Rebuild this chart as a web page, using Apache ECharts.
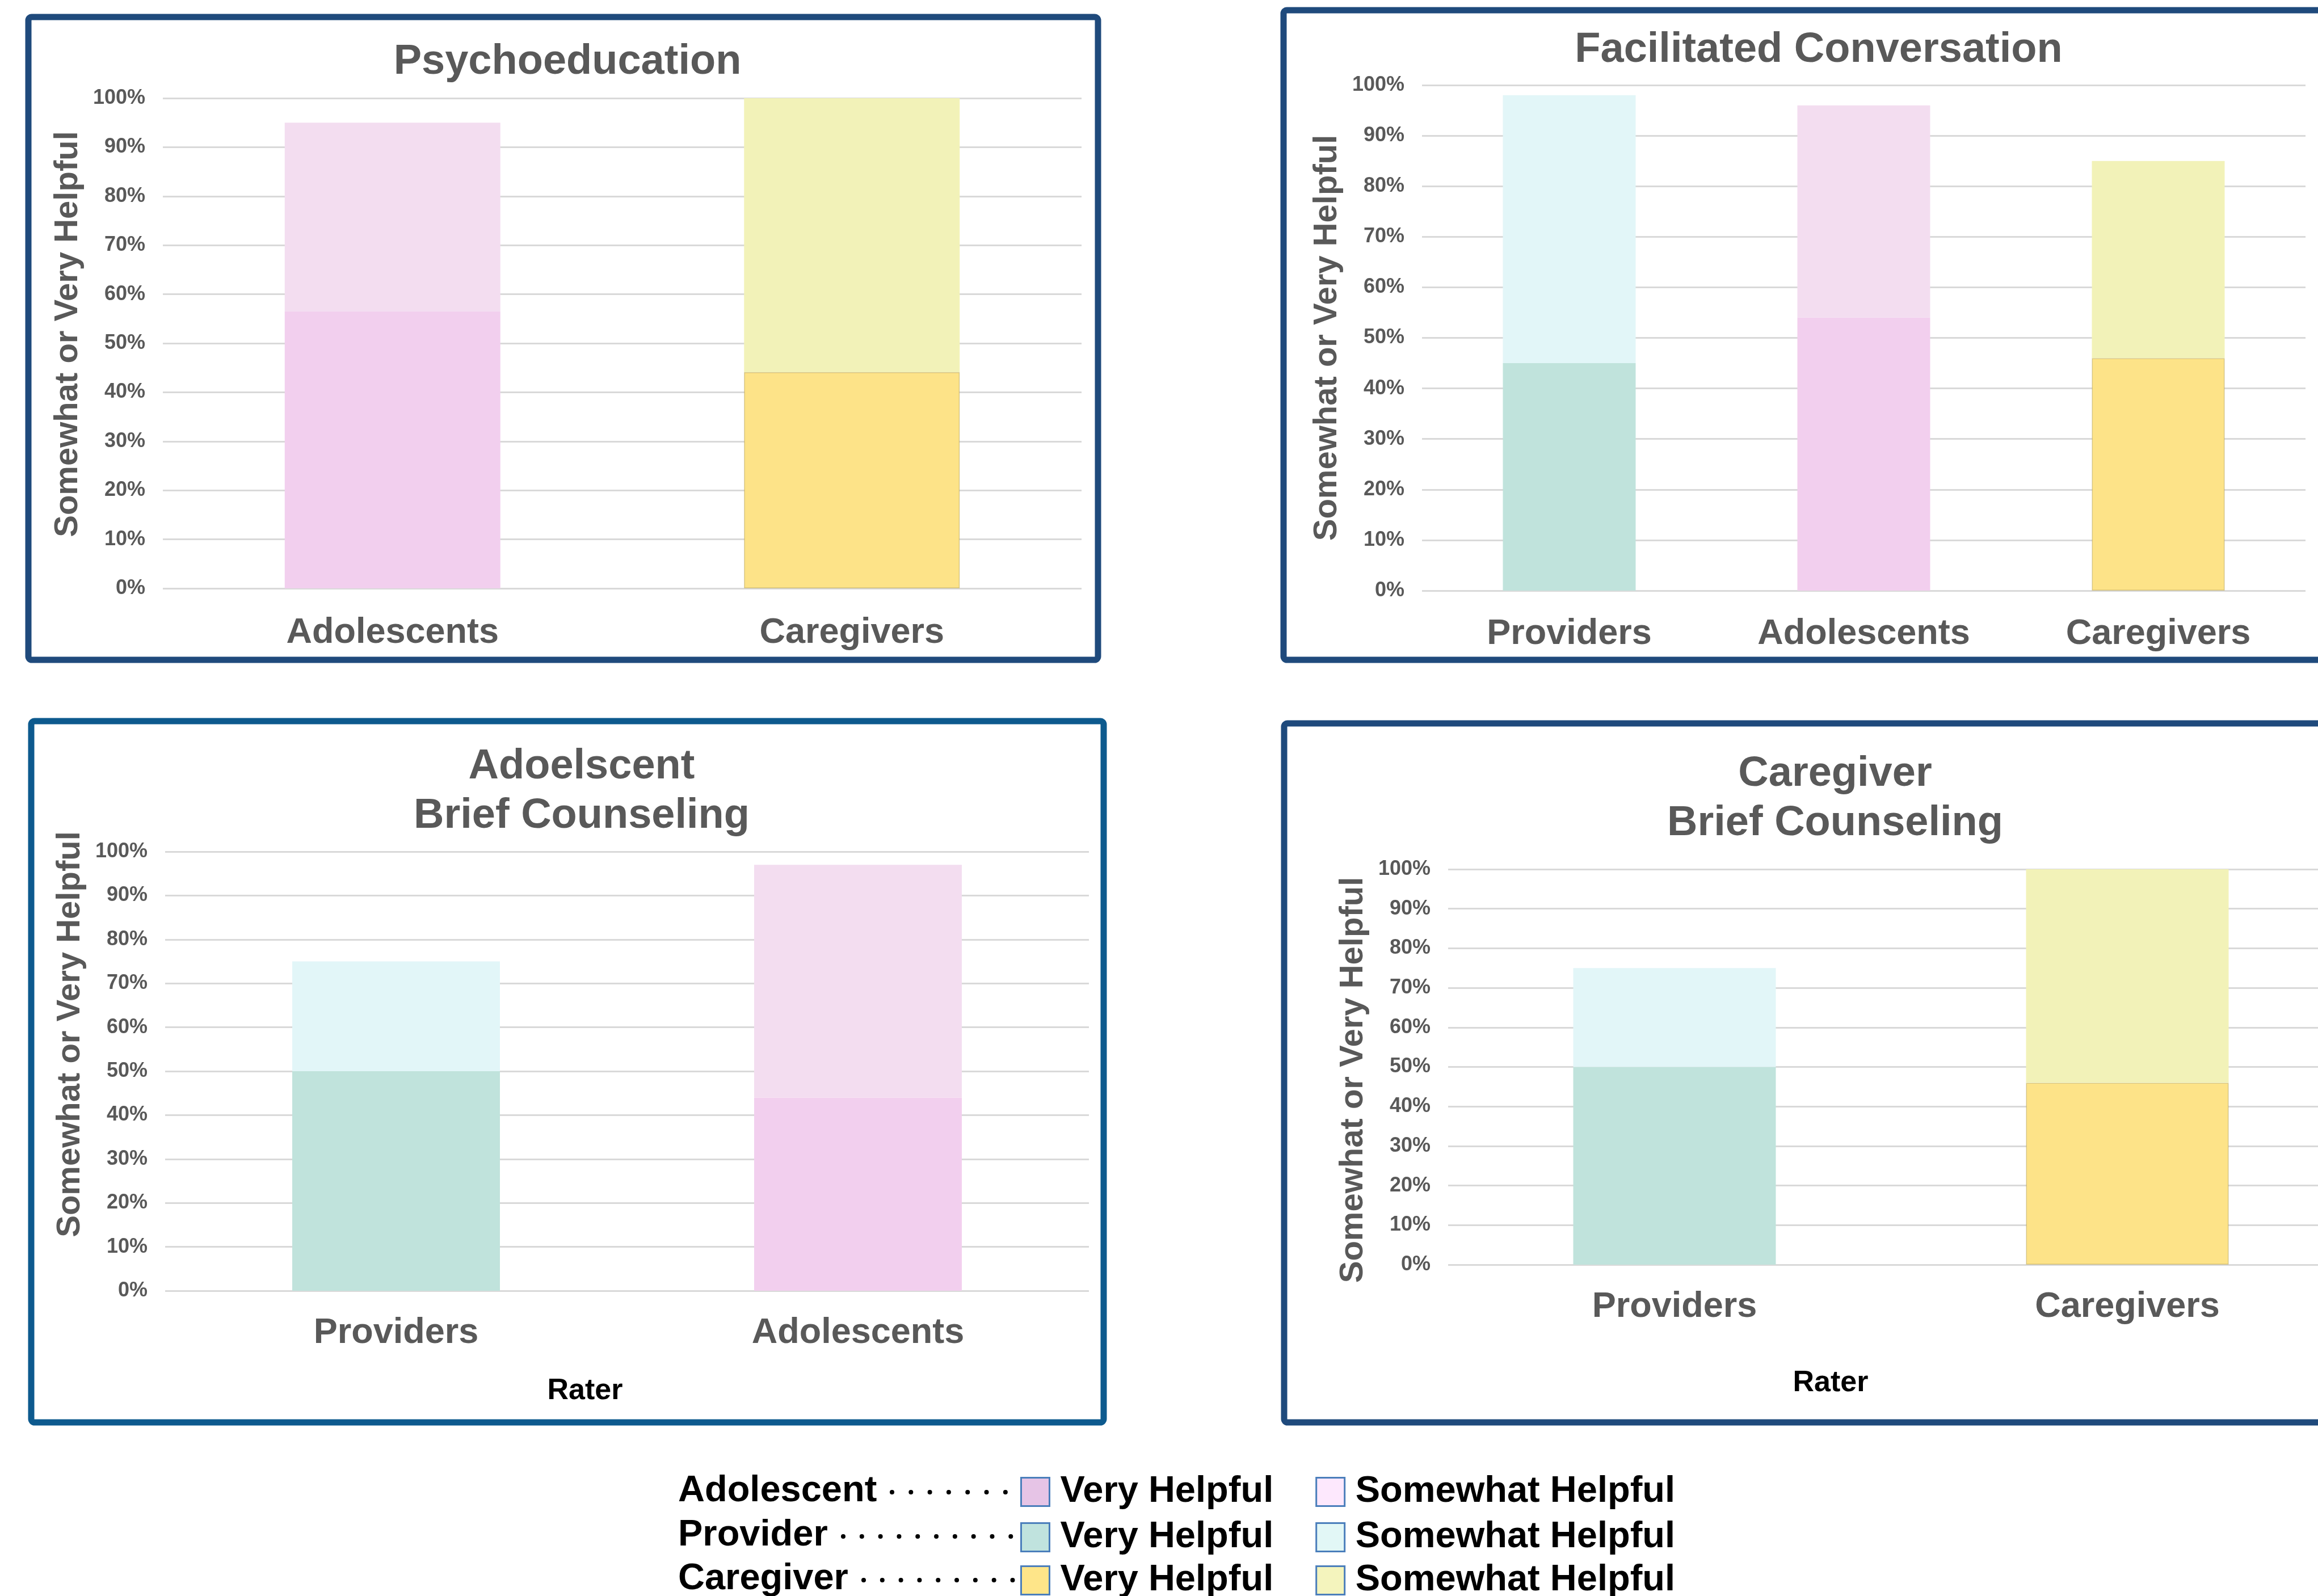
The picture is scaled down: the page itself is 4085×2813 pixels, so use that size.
<!DOCTYPE html>
<html>
<head>
<meta charset="utf-8">
<title>Helpfulness ratings</title>
<script src="https://cdn.jsdelivr.net/npm/echarts@6/dist/echarts.min.js"></script>
<style>
  html, body { margin: 0; padding: 0; background: #fff; overflow: hidden; }
  /* the right-hand panels run past the window edge, so the canvas is wider than the page */
  #chart { width: 4200px; height: 2813px; }
</style>
</head>
<body>
<div id="chart"></div>
<script>
// Psychoeducation
const psychoCategories = ['Adolescents', 'Caregivers']
const psychoRaters = ['Adolescent', 'Caregiver']
const psychoVery = [56.5, 44.1]
const psychoSomewhat = [38.5, 55.9]

// Facilitated Conversation
const convoCategories = ['Providers', 'Adolescents', 'Caregivers']
const convoRaters = ['Provider', 'Adolescent', 'Caregiver']
const convoVery = [45, 54, 46]
const convoSomewhat = [53, 42, 39]

// Adolescent brief counseling
const adolCategories = ['Providers', 'Adolescents']
const adolRaters = ['Provider', 'Adolescent']
const adolVery = [50, 44]
const adolSomewhat = [25, 53]

// Caregiver brief counseling
const careCategories = ['Providers', 'Caregivers']
const careRaters = ['Provider', 'Caregiver']
const careVery = [50, 46]
const careSomewhat = [25, 54]

const legendRaters = ['Adolescent', 'Provider', 'Caregiver']
const levels = ['Very Helpful', 'Somewhat Helpful']

const FONT = '"Liberation Sans", Arial, sans-serif'
const GREY = '#595959'

const barColors = {
  Adolescent: { 'Very Helpful': '#f2cfee', 'Somewhat Helpful': '#f3ddf0' },
  Provider: { 'Very Helpful': '#c0e3dc', 'Somewhat Helpful': '#e2f6f8' },
  Caregiver: { 'Very Helpful': '#fde388', 'Somewhat Helpful': '#f2f2b8' }
}
const legendColors = {
  Adolescent: { 'Very Helpful': '#e6c4e6', 'Somewhat Helpful': '#fde8fd' },
  Provider: { 'Very Helpful': '#c0e3de', 'Somewhat Helpful': '#e2f7f6' },
  Caregiver: { 'Very Helpful': '#fee589', 'Somewhat Helpful': '#f4f4bd' }
}

const panels = [
  {
    title: 'Psychoeducation', categories: psychoCategories, raters: psychoRaters,
    very: psychoVery, somewhat: psychoSomewhat, namePad: [0, 0, 0, 32], labelMargin: 47,
    grid: { left: 287, top: 173, width: 1619, height: 864 }, barWidth: 380,
    titlePos: { x: 1000, y: 66 }, border: { x: 50, y: 30, w: 1885, h: 1133, color: '#1f4a7c' }
  },
  {
    title: 'Facilitated Conversation', categories: convoCategories, raters: convoRaters,
    very: convoVery, somewhat: convoSomewhat, namePad: [0, 0, 0, 0], labelMargin: 45,
    grid: { left: 2506, top: 150, width: 1557, height: 891 }, barWidth: 234,
    titlePos: { x: 3205, y: 45 }, border: { x: 2262, y: 18, w: 2000, h: 1145, color: '#1f4a7c' }
  },
  {
    title: 'Adoelscent\nBrief Counseling', categories: adolCategories, raters: adolRaters,
    very: adolVery, somewhat: adolSomewhat, namePad: [0, 0, 0, 130], labelMargin: 43,
    rater: 'Rater', raterGap: 151, raterPad: [0, 148, 0, 0],
    grid: { left: 291, top: 1501, width: 1628, height: 774 }, barWidth: 366,
    titlePos: { x: 1025, y: 1308 }, border: { x: 55, y: 1271, w: 1890, h: 1236, color: '#0d5a8e' }
  },
  {
    title: 'Caregiver\nBrief Counseling', categories: careCategories, raters: careRaters,
    very: careVery, somewhat: careSomewhat, namePad: [0, 46, 0, 0], labelMargin: 43,
    rater: 'Rater', raterGap: 183, raterPad: [0, 248, 0, 0],
    grid: { left: 2552, top: 1532, width: 1596, height: 697 }, barWidth: 357,
    titlePos: { x: 3234, y: 1321 }, border: { x: 2263, y: 1275, w: 2000, h: 1232, color: '#1f4a7c' }
  }
]

const option = {
  animation: false,
  backgroundColor: '#fff',
  title: [],
  grid: [],
  xAxis: [],
  yAxis: [],
  series: [],
  legend: [],
  graphic: []
}

panels.forEach((p, idx) => {
  option.title.push({
    text: p.title,
    left: p.titlePos.x,
    top: p.titlePos.y,
    textAlign: 'center',
    padding: 0,
    textStyle: { fontFamily: FONT, fontWeight: 'bold', fontSize: 74, lineHeight: 87, color: GREY }
  })
  option.grid.push(Object.assign({ containLabel: false }, p.grid))
  option.xAxis.push({
    type: 'category',
    gridIndex: idx,
    data: p.categories,
    axisLine: { show: false },
    axisTick: { show: false },
    axisLabel: { margin: p.labelMargin, fontFamily: FONT, fontWeight: 'bold', fontSize: 63, color: GREY },
    name: p.rater || '',
    nameLocation: 'middle',
    nameGap: p.raterGap || 0,
    nameTextStyle: {
      fontFamily: FONT, fontWeight: 'bold', fontSize: 52, color: '#000',
      padding: p.raterPad || 0
    }
  })
  option.yAxis.push({
    type: 'value',
    gridIndex: idx,
    min: 0,
    max: 100,
    interval: 10,
    axisLine: { show: false },
    axisTick: { show: false },
    splitLine: { lineStyle: { color: '#d9d9d9', width: 3 } },
    axisLabel: { margin: 31, formatter: '{value}%', fontFamily: FONT, fontWeight: 'bold', fontSize: 36, color: GREY },
    name: 'Somewhat or Very Helpful',
    nameLocation: 'middle',
    nameGap: 138,
    nameTextStyle: { fontFamily: FONT, fontWeight: 'bold', fontSize: 58, color: GREY, padding: p.namePad }
  })
  // very helpful first so it sits at the bottom of each stack
  levels.forEach(level => {
    const values = level === 'Very Helpful' ? p.very : p.somewhat
    p.raters.forEach(rater => {
      const style = { color: barColors[rater][level] }
      if (rater === 'Caregiver' && level === 'Very Helpful') {
        style.borderColor = 'rgba(185,165,90,0.55)'
        style.borderWidth = 1.5
      }
      option.series.push({
        name: rater + ' ' + level,
        type: 'bar',
        xAxisIndex: idx,
        yAxisIndex: idx,
        stack: 'panel' + idx,
        barWidth: p.barWidth,
        itemStyle: style,
        data: p.categories.map((c, i) => (p.raters[i] === rater ? values[i] : '-'))
      })
    })
  })
  const b = p.border
  option.graphic.push({
    type: 'rect',
    shape: { x: b.x, y: b.y, width: b.w, height: b.h, r: 6 },
    style: { fill: 'none', stroke: b.color, lineWidth: 11 },
    silent: true
  })
})

// legend rows: rater label, dotted leader, then the two swatches
const legendRows = [
  { top: 2597, textY: 2628, dots: [1572, 1772] },
  { top: 2677, textY: 2706, dots: [1486, 1781] },
  { top: 2753, textY: 2783, dots: [1522, 1784] }
]
legendRaters.forEach((rater, r) => {
  const row = legendRows[r]
  option.legend.push({
    left: 1798,
    top: row.top,
    padding: 0,
    orient: 'horizontal',
    selectedMode: false,
    icon: 'rect',
    itemWidth: 50,
    itemHeight: 50,
    itemGap: 74,
    data: levels.map(level => ({
      name: rater + ' ' + level,
      itemStyle: { color: legendColors[rater][level], borderColor: '#4a7ebb', borderWidth: 3 }
    })),
    formatter: name => name.replace(rater + ' ', ''),
    textStyle: { fontFamily: FONT, fontWeight: 'bold', fontSize: 65, color: '#000', padding: [0, 0, 0, 14] }
  })
  option.graphic.push({
    type: 'text',
    style: {
      text: rater, x: 1195, y: row.textY, verticalAlign: 'middle',
      font: 'bold 65px ' + FONT, fill: '#000'
    },
    silent: true
  })
  const step = r === 0 ? 33.3 : 32.8
  option.graphic.push({
    type: 'line',
    shape: { x1: row.dots[0], y1: row.textY + 2, x2: row.dots[1] + 1, y2: row.textY + 2 },
    style: { stroke: '#000', lineWidth: 8, lineCap: 'round', lineDash: [0.01, step] },
    silent: true
  })
})

const chart = echarts.init(document.getElementById('chart'))
chart.setOption(option)
</script>
</body>
</html>
